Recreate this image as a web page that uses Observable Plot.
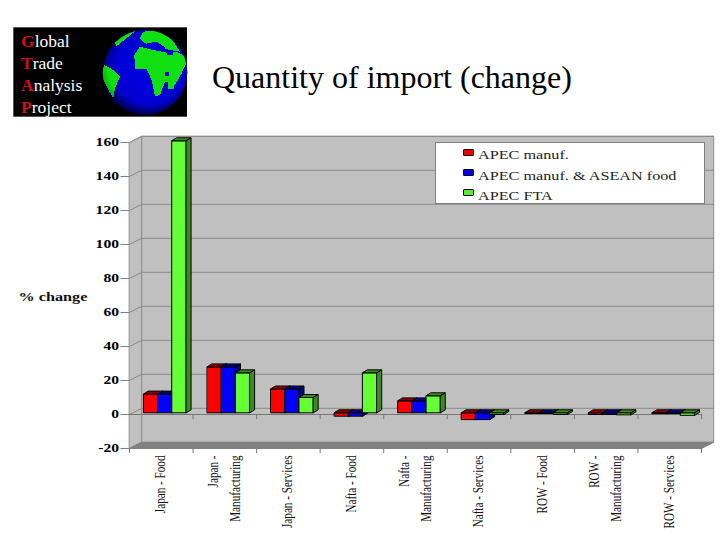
<!DOCTYPE html>
<html>
<head>
<meta charset="utf-8">
<script src="https://cdn.jsdelivr.net/npm/d3@7"></script>
<script src="https://cdn.jsdelivr.net/npm/@observablehq/plot@0.6"></script>
<style>
  html,body{margin:0;padding:0;background:#fff;width:720px;height:540px;overflow:hidden;font-family:"Liberation Serif",serif}
  #chart{position:absolute;left:0;top:0}
  #chart svg{background:transparent}
  #logo{position:absolute;left:0;top:10px}
  .lt{position:absolute;left:21px;color:#fff;font-size:17.5px;line-height:20px;white-space:nowrap}
  .lt b{color:#d01010}
  #title{position:absolute;left:212px;top:58px;font-size:32px;line-height:38px;color:#000;white-space:nowrap}
  #legend{position:absolute;left:435px;top:142px;width:268px;height:60px;background:#fff;border:1px solid #808080}
  .sw{position:absolute;left:27px;width:9px;height:5px;border:1px solid #000;border-radius:1px}
  .lg{position:absolute;left:42px;font-size:12px;line-height:14px;white-space:nowrap;color:#222;transform-origin:0 50%}
</style>
</head>
<body>
<div id="chart"></div>
<svg id="logo" width="360" height="200" viewBox="0 0 1080 600">
  <defs>
    <radialGradient id="ocean" cx="0.55" cy="0.45" r="0.6">
      <stop offset="0" stop-color="#0000e8"/><stop offset="0.7" stop-color="#0000d0"/><stop offset="1" stop-color="#000050"/>
    </radialGradient>
    <radialGradient id="shade" cx="0.55" cy="0.42" r="0.68">
      <stop offset="0.72" stop-color="#000" stop-opacity="0"/><stop offset="1" stop-color="#000" stop-opacity="0.55"/>
    </radialGradient>
    <clipPath id="globe"><circle cx="435" cy="187" r="127"/></clipPath>
  </defs>
  <rect x="40" y="52" width="521" height="268" fill="#000"/>
  <circle cx="435" cy="187" r="127" fill="url(#ocean)"/>
  <g clip-path="url(#globe)" fill="#10e010" shape-rendering="crispEdges">
    <path d="M403,135L420,110L450,118L500,128L530,125L565,145L545,190L525,225L495,215L480,255L465,260L455,210L440,178L405,176Z"/>
    <path d="M420,85L430,65L470,62L510,80L540,125L500,118L470,105L435,100Z"/>
    <path d="M312,165L340,180L360,200L345,235L340,265L320,230L305,200Z"/>
    <path d="M340,95L375,72L395,58L410,60L385,80L350,108Z"/>
    <rect x="505" y="220" width="18" height="18"/>
  </g>
  <g clip-path="url(#globe)" fill="#0000d8" shape-rendering="crispEdges">
    <path d="M440,100L470,95L500,115L460,118Z"/>
    <rect x="495" y="185" width="12" height="12"/>
    <rect x="500" y="125" width="20" height="10"/>
  </g>
  <circle cx="435" cy="187" r="127" fill="url(#shade)"/>
</svg>
<div class="lt" style="top:31px"><b>G</b>lobal</div>
<div class="lt" style="top:53px"><b>T</b>rade</div>
<div class="lt" style="top:75px"><b>A</b>nalysis</div>
<div class="lt" style="top:97px"><b>P</b>roject</div>
<div id="title">Quantity of import (change)</div>
<div id="legend"></div>
<script>
const categories = ["Japan - Food","Japan -\nManufacturing","Japan - Services","Nafta - Food","Nafta -\nManufacturing","Nafta - Services","ROW - Food","ROW -\nManufacturing","ROW - Services"];
const seriesNames = ["APEC manuf.","APEC manuf. & ASEAN food","APEC FTA"];
const apecManuf   = [11,27,14,-2,7,-4,-0.4,-1,-0.5];
const apecAsean   = [11,27,14,-2,7,-4,-0.4,-1,-0.5];
const apecFta     = [160,23.5,9,23.5,10,-1,-1,-1.2,-1.5];
const yTicks = [-20,0,20,40,60,80,100,120,140,160];
const fronts = ["#ff0000","#0000ff","#66ff33"];
const shades = ["#8c0000","#000080","#3f8a20"];
const wallFill = "#c0c0c0", floorFill = "#808080", gridColor = "#8a8a8a";

// Depth of the 3D box and of each bar, in scale units
const pxX = (701-129)/9, pxY = (448-142)/180;
const wallDX = 12.2/pxX, wallDY = 6.2/pxY;
const barDX = 4.8/pxX, barDY = 3/pxY;
const lift = 1.7/pxY, barStart = 14.3/pxX, barW = 14.15/pxX;

const n = categories.length;
const polys = [];
const poly = (id, fill, stroke, pts) => pts.forEach(([x,y]) => polys.push({id,fill,stroke,x,y}));
[apecManuf,apecAsean,apecFta].forEach((vals,s) => vals.forEach((v,i) => {
  const x0 = i + barStart + s*barW, x1 = x0 + barW;
  const hi = Math.max(v,0) + lift, lo = Math.min(v,0) + lift;
  const id = `${s}-${i}`;
  poly(id+"f", fronts[s], "#000", [[x0,lo],[x1,lo],[x1,hi],[x0,hi]]);
  poly(id+"t", shades[s], "#000", [[x0,hi],[x1,hi],[x1+barDX,hi+barDY],[x0+barDX,hi+barDY]]);
  poly(id+"s", shades[s], "#000", [[x1,lo],[x1+barDX,lo+barDY],[x1+barDX,hi+barDY],[x1,hi]]);
}));
const walls = [];
const wall = (id, fill, stroke, pts) => pts.forEach(([x,y]) => walls.push({id,fill,stroke,x,y}));
wall("back", wallFill, gridColor, [[wallDX,-20+wallDY],[n+wallDX,-20+wallDY],[n+wallDX,160+wallDY],[wallDX,160+wallDY]]);
wall("left", wallFill, gridColor, [[0,-20],[wallDX,-20+wallDY],[wallDX,160+wallDY],[0,160]]);
wall("floor", floorFill, floorFill, [[0,-20],[n,-20],[n+wallDX,-20+wallDY],[wallDX,-20+wallDY]]);

const grid = [];
yTicks.filter(t=>t>-20).forEach(t => {
  grid.push({t,x:0,y:t},{t,x:wallDX,y:t+wallDY},{t,x:n+wallDX,y:t+wallDY});
});
const range = d3.range(n+1);

const plot = Plot.plot({
  width:720, height:540,
  marginLeft:129, marginRight:19, marginTop:142, marginBottom:92,
  style:{background:"transparent"},
  x:{domain:[0,n], axis:null},
  y:{domain:[-20,160], axis:null},
  marks:[
    Plot.line(walls,{x:"x",y:"y",z:"id",fill:"fill",stroke:"stroke",curve:"linear-closed",strokeWidth:1}),
    Plot.line(grid,{x:"x",y:"y",z:"t",stroke:gridColor,strokeWidth:1}),
    Plot.ruleY([0],{stroke:"#777",strokeWidth:1}),
    Plot.ruleX(range.slice(1),{y1:0,y2:-3,stroke:"#777",strokeWidth:1}),
    Plot.ruleX(range,{y1:-20,y2:-23,stroke:"#777",strokeWidth:1}),
    Plot.axisY({ticks:yTicks,tickSize:8.5,tickPadding:2,stroke:"#808080",fill:"#000",label:null,
      fontFamily:"Liberation Serif",fontSize:12,fontWeight:"bold",tickFormat:d=>String(d)}),
    Plot.line(polys,{x:"x",y:"y",z:"id",fill:"fill",stroke:"stroke",curve:"linear-closed",strokeWidth:1}),
    Plot.text(categories,{x:(d,i)=>i+0.5,y:-20,dx:-3,dy:7,text:d=>d,rotate:-90,textAnchor:"end",lineAnchor:"middle",lineHeight:1.42,
      fontFamily:"Liberation Serif",fontSize:15.5,fill:"#111"}),
    Plot.text(["% change"],{frameAnchor:"left",dx:-111,dy:2,textAnchor:"start",
      fontFamily:"Liberation Serif",fontSize:12,fontWeight:"bold",fill:"#111"})
  ]
});
document.getElementById("chart").append(plot);

plot.querySelectorAll('g[aria-label="y-axis tick label"] text').forEach(el =>
  el.setAttribute("transform",(el.getAttribute("transform")||"")+" scale(1.3,1)"));
const tg = plot.querySelectorAll('g[aria-label="text"]');
tg[0].querySelectorAll("text").forEach(el=>el.setAttribute("transform",el.getAttribute("transform")+" scale(.72,1)"));
tg[1].querySelectorAll("text").forEach(el=>el.setAttribute("transform",el.getAttribute("transform")+" scale(1.35,1)"));

const legend = document.getElementById("legend");
seriesNames.forEach((name,i)=>{
  const sw = document.createElement("div");
  sw.className="sw";
  sw.style.top=(6+i*20)+"px";
  sw.style.background=["#ee0000","#0000ee","#55ee33"][i];
  legend.append(sw);
  const t = document.createElement("div");
  t.className="lg";
  t.style.top=(5+i*20.5)+"px";
  t.textContent=name;
  t.style.transform="scaleX(1.35)";
  legend.append(t);
});
</script>
</body>
</html>
